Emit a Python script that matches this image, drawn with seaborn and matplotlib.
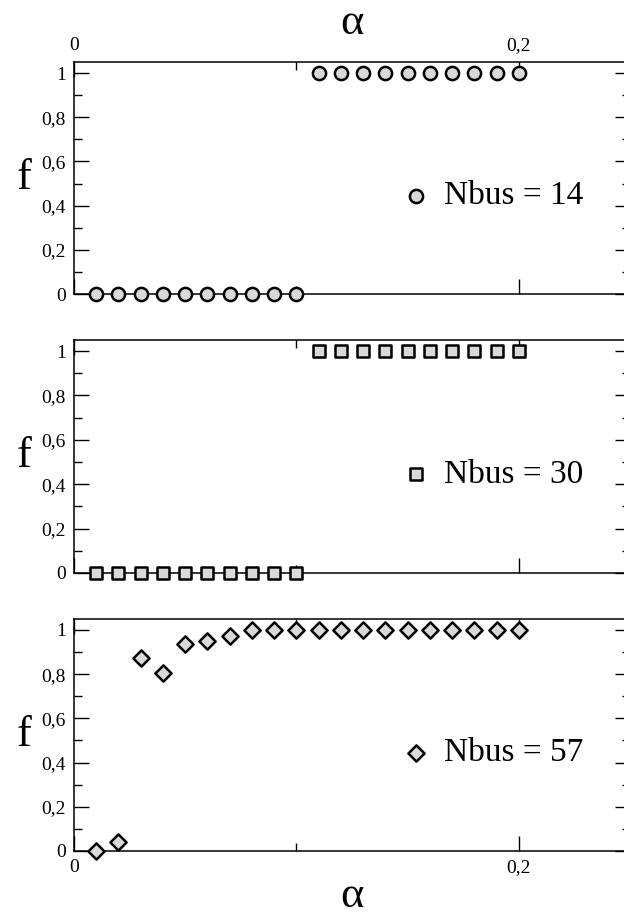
import numpy as np
import matplotlib
matplotlib.use("Agg")
import matplotlib.pyplot as plt
import seaborn as sns
from matplotlib.ticker import MultipleLocator

# data
alpha_14 = [0.01, 0.02, 0.03, 0.04, 0.05, 0.06, 0.07, 0.08, 0.09, 0.10,
            0.11, 0.12, 0.13, 0.14, 0.15, 0.16, 0.17, 0.18, 0.19, 0.20]
f_14 = [0, 0, 0, 0, 0, 0, 0, 0, 0, 0,
        1, 1, 1, 1, 1, 1, 1, 1, 1, 1]

alpha_30 = alpha_14
f_30 = [0, 0, 0, 0, 0, 0, 0, 0, 0, 0,
        1, 1, 1, 1, 1, 1, 1, 1, 1, 1]

alpha_57 = alpha_14
f_57 = [0.0, 0.041, 0.872, 0.807, 0.935, 0.949, 0.974, 1, 1, 1,
        1, 1, 1, 1, 1, 1, 1, 1, 1, 1]

series = [
    (alpha_14, f_14, "o", 90, "Nbus = 14"),
    (alpha_30, f_30, "s", 72, "Nbus = 30"),
    (alpha_57, f_57, "D", 68, "Nbus = 57"),
]

yticks = [0, 0.2, 0.4, 0.6, 0.8, 1]
yticklabels = ["0", "0,2", "0,4", "0,6", "0,8", "1"]
xticks = [0, 0.2]
xticklabels = ["0", "0,2"]

sns.set_theme(style="ticks")
plt.rcParams['font.family'] = ['Liberation Serif', 'DejaVu Serif']
plt.rcParams['text.color'] = 'black'
plt.rcParams['axes.labelcolor'] = 'black'
plt.rcParams['xtick.color'] = 'black'
plt.rcParams['ytick.color'] = 'black'

fig = plt.figure(figsize=(6.24, 9.16), dpi=100)

# axes boxes in figure fractions (right side runs past the image edge)
boxes = [
    [0.1186, 0.679, 0.891, 0.2533],
    [0.1186, 0.3745, 0.891, 0.2544],
    [0.1186, 0.071, 0.891, 0.2533],
]

for i, ((xs, ys, mk, size, lab), box) in enumerate(zip(series, boxes)):
    ax = fig.add_axes(box)
    sns.scatterplot(x=xs, y=ys, marker=mk, s=size, color="#d9d9d9",
                    edgecolor="black", linewidth=1.8, label=lab, ax=ax,
                    clip_on=False, zorder=5)
    ax.set_xlim(0, 0.25)
    ax.set_ylim(0, 1.05)
    ax.set_yticks(yticks)
    ax.set_yticklabels(yticklabels)
    ax.yaxis.set_minor_locator(MultipleLocator(0.1))
    ax.set_xticks(xticks)
    ax.xaxis.set_minor_locator(MultipleLocator(0.1))
    ax.tick_params(which="both", direction="in", top=True, right=True,
                   width=1.0, colors="black", labelsize=14, pad=6)
    ax.tick_params(which="major", length=11)
    ax.tick_params(which="minor", length=5.5)
    for sp in ax.spines.values():
        sp.set_linewidth(1.1)
        sp.set_color("black")

    if i == 0:
        ax.xaxis.set_ticks_position("both")
        ax.tick_params(axis="x", labeltop=True, labelbottom=False)
        ax.set_xticklabels(xticklabels)
        ax.xaxis.set_label_position("top")
        ax.set_xlabel("α", fontsize=32, labelpad=2)
    elif i == 2:
        ax.set_xticklabels(xticklabels)
        ax.set_xlabel("α", fontsize=32, labelpad=0)
    else:
        ax.set_xticklabels([])

    ax.set_ylabel("f", fontsize=32, rotation=0, labelpad=12, va="center")

    ax.legend(loc="center left", bbox_to_anchor=(0.585, 0.422),
              frameon=False, borderaxespad=0, borderpad=0,
              handlelength=1.0, handletextpad=0.35,
              prop={"size": 24})

fig.savefig("out.png", dpi=100)
plt.close(fig)
